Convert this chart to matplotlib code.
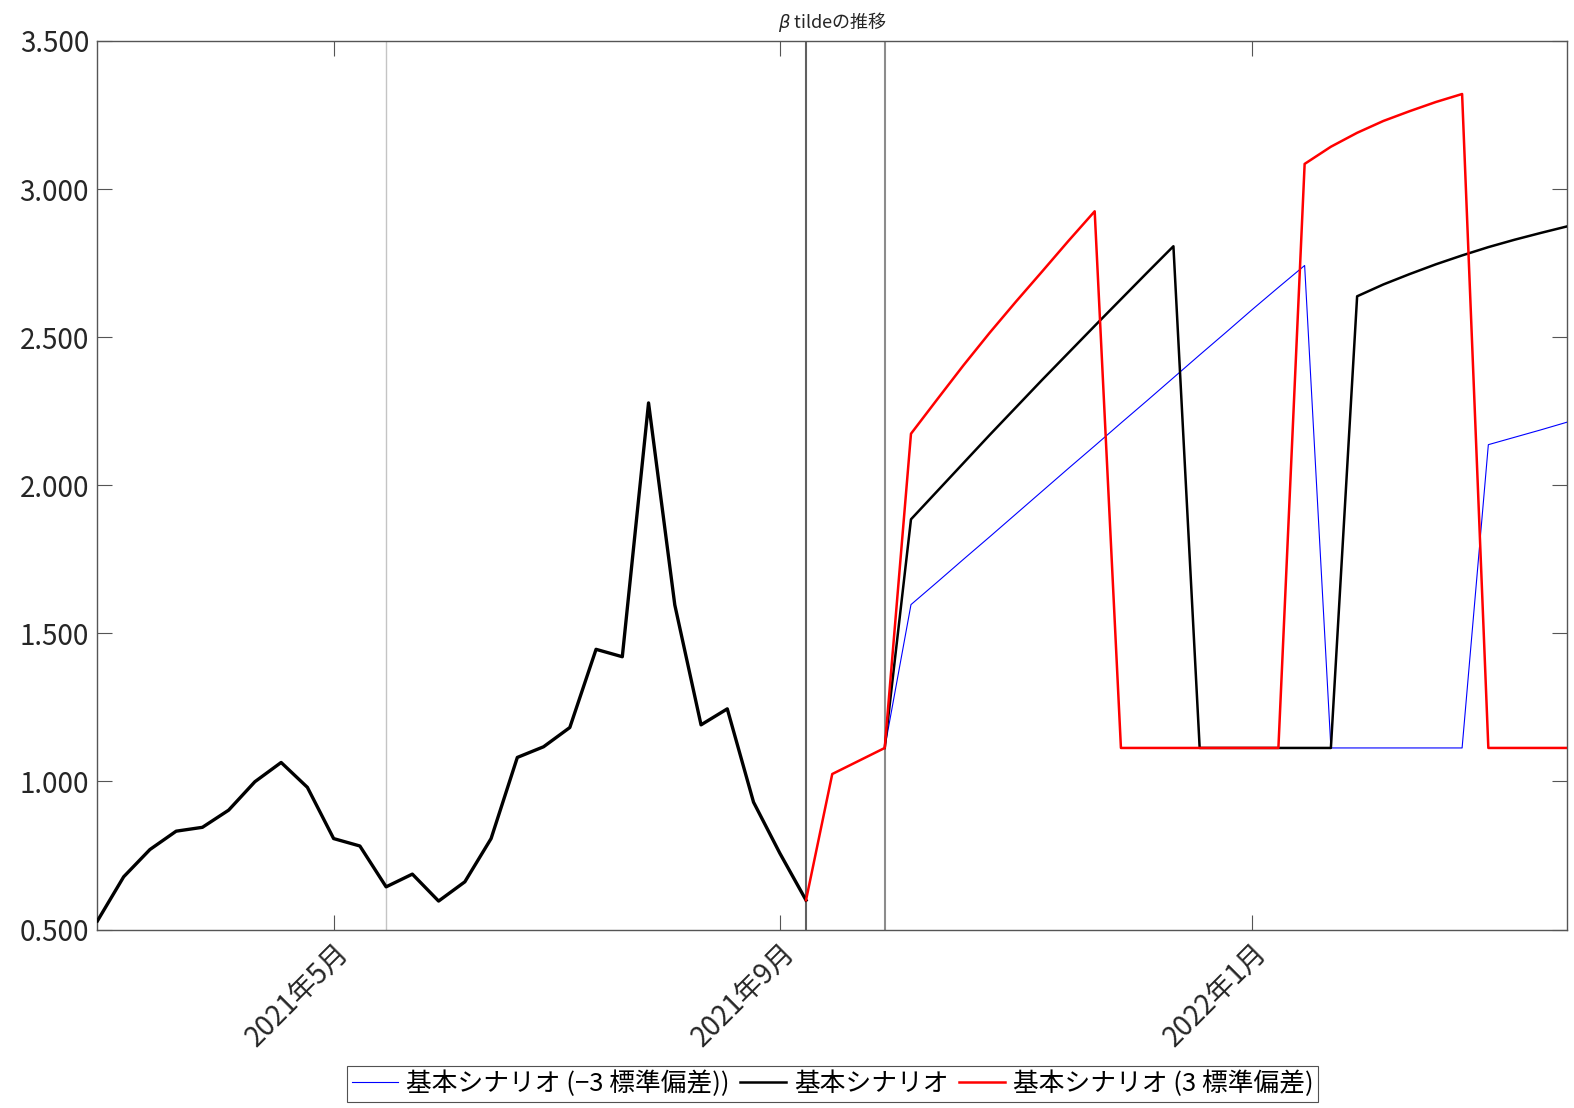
import matplotlib
matplotlib.use("Agg")
import matplotlib.pyplot as plt
import numpy as np

plt.rcParams['font.family'] = ['Noto Sans CJK JP', 'DejaVu Sans']
plt.rcParams['mathtext.fontset'] = 'dejavusans'

# weekly index positions (x axis)
hist_values = [0.529, 0.678, 0.770, 0.832, 0.845, 0.903, 0.999, 1.064, 0.980, 0.807,
               0.782, 0.644, 0.687, 0.596, 0.661, 0.807, 1.081, 1.117, 1.182, 1.446,
               1.421, 2.278, 1.596, 1.191, 1.245, 0.930, 0.758, 0.599]

# +3 sd scenario, weeks 27..56
up_values = [0.599, 1.025, 1.069, 1.113,
             2.174, 2.290, 2.405, 2.515, 2.620, 2.722, 2.825, 2.925,
             1.113, 1.113, 1.113, 1.113, 1.113, 1.113, 1.113,
             3.085, 3.143, 3.190, 3.230, 3.263, 3.294, 3.321,
             1.113, 1.113, 1.113, 1.113]

# base scenario, weeks 30..56
base_values = [1.113, 1.885, 1.980, 2.075, 2.170, 2.263, 2.356, 2.447, 2.538, 2.628,
               2.718, 2.807, 1.113, 1.113, 1.113, 1.113, 1.113, 1.113,
               2.638, 2.678, 2.713, 2.746, 2.776, 2.804, 2.829, 2.852, 2.874]

# -3 sd scenario, weeks 30..56
down_values = [1.113, 1.597, 1.673, 1.750, 1.826, 1.903, 1.980, 2.057, 2.133, 2.210,
               2.286, 2.363, 2.440, 2.516, 2.593, 2.668, 2.742,
               1.113, 1.113, 1.113, 1.113, 1.113, 1.113,
               2.137, 2.162, 2.187, 2.213]

vlines = [11, 27, 30]
tick_pos = [9, 26, 44]
tick_labels = ['2021年5月', '2021年9月', '2022年1月']
legend_labels = ['基本シナリオ (−3 標準偏差))', '基本シナリオ', '基本シナリオ (3 標準偏差)']

x_hist = np.arange(0, 28)
x_up = np.arange(27, 57)
x_base = np.arange(30, 57)
x_down = np.arange(30, 57)

fig = plt.figure(figsize=(15.74, 11.08), dpi=100)
ax = fig.add_axes([0.0619, 0.1611, 0.9337, 0.8019])

ax.axvline(vlines[0], color='#c4c4c4', lw=1.0, zorder=1)
ax.axvline(vlines[1], color='#606060', lw=1.5, zorder=1)
ax.axvline(vlines[2], color='#8c8c8c', lw=1.5, zorder=1)

ax.plot(x_hist, hist_values, color='k', lw=2.4, zorder=3)
l1, = ax.plot(x_down, down_values, color='#0000ff', lw=0.8, zorder=3)
l2, = ax.plot(x_base, base_values, color='k', lw=1.8, zorder=3)
l3, = ax.plot(x_up, up_values, color='#ff0000', lw=1.8, zorder=4)

ax.set_xlim(0, 56)
ax.set_ylim(0.5, 3.5)
ax.set_yticks(np.arange(0.5, 3.51, 0.5))
ax.set_yticklabels(['%.3f' % v for v in np.arange(0.5, 3.51, 0.5)])
ax.set_xticks(tick_pos)
ax.set_xticklabels(tick_labels, rotation=45, ha='right', rotation_mode='anchor')

ax.tick_params(axis='both', direction='in', length=11, width=0.8, color='#555555',
               top=True, right=True, labelsize=20, labelcolor='#262626', pad=6)
for s in ax.spines.values():
    s.set_color('#555555')
    s.set_linewidth(1.0)

ax.set_title(r'$\beta$ tildeの推移', fontsize=13, pad=9, color='#262626')

leg = fig.legend([l1, l2, l3], legend_labels, loc='center', bbox_to_anchor=(0.529, 0.0217),
                 ncol=3, fontsize=18.5, frameon=True, fancybox=False, edgecolor='#262626',
                 handlelength=1.8, handletextpad=0.3, columnspacing=0.4, borderpad=0.2,
                 borderaxespad=0)
leg.get_frame().set_linewidth(0.8)

fig.savefig('out.png', dpi=100)
